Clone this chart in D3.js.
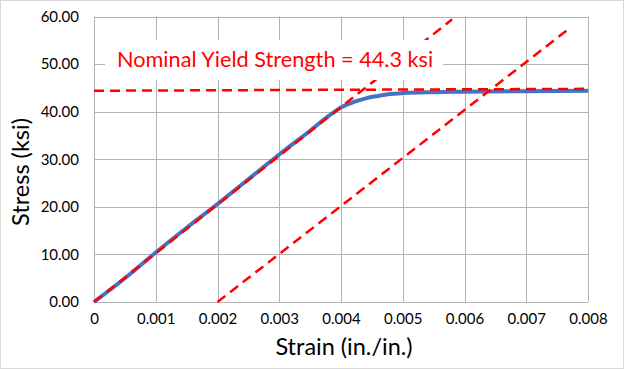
<!DOCTYPE html>
<html lang="en">
<head>
    <meta charset="UTF-8">
    <title>Stress - Strain</title>
    <script src="https://cdn.jsdelivr.net/npm/d3@7"></script>
    <style>
        body{ margin:0; background:#fff; }
        text{ font-family: Lato, "Open Sans", sans-serif; }
        .tick text{ font-size: 15px; fill:#000; }
    </style>
</head>
<body>
<div class="container"></div>
<script>
    ////////////////////////////////////////////////////////////////
    /*                       Data                                 */
    ////////////////////////////////////////////////////////////////

    const strain = [0,0.0005,0.001,0.0015,0.002,0.0025,0.003,0.0035,0.0038,0.004,0.0042,0.0044,0.0046,0.0048,0.005,0.0055,0.006,0.007,0.008]
    const stress = [0,5.0,10.4,15.6,20.6,25.8,31.0,36.0,39.1,40.9,42.0,42.8,43.3,43.7,43.9,44.1,44.2,44.3,44.4]

    const elasticLine = [[0,0],[0.0058,59.4]]          // slope line through origin
    const offsetLine  = [[0.002,0],[0.00765,57.0]]     // 0.2% offset line
    const yieldLine   = [[0,44.4],[0.008,44.8]]        // nominal yield level
    const yieldLabel  = "Nominal Yield Strength = 44.3 ksi"

    const xTicks = [0,0.001,0.002,0.003,0.004,0.005,0.006,0.007,0.008]
    const yTicks = [0,10,20,30,40,50,60]

    ////////////////////////////////////////////////////////////////
    /*                 Containers and Scales                      */
    ////////////////////////////////////////////////////////////////

    const W = 624, H = 369
    const margin = {top:16.5, right:36, bottom:67, left:94}
    const svg = d3.select('.container').append('svg')
        .attr('width',W).attr('height',H)

    svg.append('rect')
        .attr('x',0.5).attr('y',0.5).attr('width',W-1).attr('height',H-1)
        .attr('fill','#fff').attr('stroke','#d9d9d9')

    const x = d3.scaleLinear().domain([0,0.008]).range([margin.left,W-margin.right])
    const y = d3.scaleLinear().domain([0,60]).range([H-margin.bottom,margin.top])

    // grid
    const grid = svg.append('g').attr('stroke','#b3b3b3').attr('stroke-width',1)
    grid.selectAll('.v').data(xTicks).join('line')
        .attr('x1',d=>Math.round(x(d))+0.5).attr('x2',d=>Math.round(x(d))+0.5)
        .attr('y1',y(0)).attr('y2',y(60))
    grid.selectAll('.h').data(yTicks).join('line')
        .attr('y1',d=>Math.round(y(d))+0.5).attr('y2',d=>Math.round(y(d))+0.5)
        .attr('x1',x(0)).attr('x2',x(0.008))

    // axes (labels only)
    svg.append('g').attr('transform',`translate(0,${y(0)})`)
        .call(d3.axisBottom(x).tickValues(xTicks).tickFormat(d=>d===0?'0':d3.format('.3f')(d)).tickSize(0).tickPadding(11))
    svg.append('g').attr('transform',`translate(${x(0)},0)`)
        .call(d3.axisLeft(y).tickValues(yTicks).tickFormat(d3.format('.2f')).tickSize(0).tickPadding(15))
    svg.selectAll('.domain').remove()

    ////////////////////////////////////////////////////////////////
    /*                        Lines                               */
    ////////////////////////////////////////////////////////////////

    const line = d3.line().x(d=>x(d[0])).y(d=>y(d[1]))

    svg.append('path')
        .datum(strain.map((s,i)=>[s,stress[i]]))
        .attr('d',line.curve(d3.curveMonotoneX))
        .attr('fill','none').attr('stroke','#4472c4').attr('stroke-width',4)
        .attr('stroke-linejoin','round')

    line.curve(d3.curveLinear)
    svg.selectAll('.dash').data([elasticLine,offsetLine,yieldLine]).join('path')
        .attr('d',line)
        .attr('fill','none').attr('stroke','#ff0000').attr('stroke-width',2.5)
        .attr('stroke-dasharray','10,6')

    // label with white box over the grid
    const label = svg.append('g')
    const box = label.append('rect').attr('fill','#fff')
    const txt = label.append('text')
        .attr('x',117).attr('y',67)
        .attr('fill','#ff0000').attr('font-size',21.7)
        .text(yieldLabel)
    const bb = txt.node().getBBox()
    box.attr('x',105).attr('y',40).attr('width',bb.x+bb.width+10-105).attr('height',40)

    // axis titles
    svg.append('text')
        .attr('x',344).attr('y',355)
        .attr('text-anchor','middle').attr('font-size',23.5).attr('fill','#000')
        .text('Strain (in./in.)')
    svg.append('text')
        .attr('transform',`translate(29,172)rotate(-90)`)
        .attr('text-anchor','middle').attr('font-size',23.5).attr('fill','#000')
        .text('Stress (ksi)')
</script>
</body>
</html>
